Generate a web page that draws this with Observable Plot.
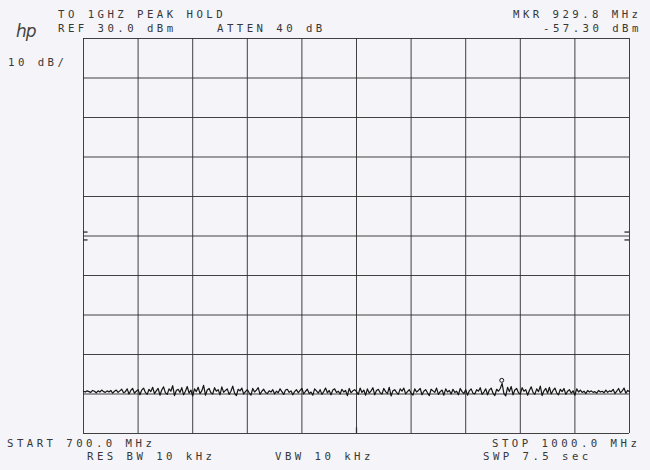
<!DOCTYPE html>
<html><head><meta charset="utf-8">
<script src="https://cdn.jsdelivr.net/npm/d3@7"></script>
<script src="https://cdn.jsdelivr.net/npm/@observablehq/plot@0.6"></script>
<style>
html,body{margin:0;padding:0;background:#f4f4f9;}
#wrap{position:relative;width:650px;height:470px;overflow:hidden;background:#f4f4f9;}
#wrap svg{position:absolute;left:0;top:0;}
.t{position:absolute;font-family:"DejaVu Sans Mono",monospace;font-size:10.7px;line-height:10.7px;letter-spacing:3.45px;color:#383838;white-space:pre;font-variant-numeric:slashed-zero;}
.hp{position:absolute;font-family:"DejaVu Sans",sans-serif;font-style:italic;font-size:17px;line-height:17px;color:#444;letter-spacing:-1px;}
</style></head><body><div id="wrap"></div>
<script>
// Sweep settings (MHz) and display levels (dBm)
const startMHz = 700;
const stopMHz = 1000;
const freqGrid = [700, 730, 760, 790, 820, 850, 880, 910, 940, 970, 1000];
const levelGrid = [30, 20, 10, 0, -10, -20, -30, -40, -50, -60, -70];
const refTicks = [-19, -21];
const centerMarkMHz = [850];
const marker = [{f: 929.8, v: -57.3}];

// Peak-hold noise trace, dBm, 1 MHz steps (700 -> 1000 MHz)
const traceDbm = [
 -59.3,-59.5,-59.2,-59.4,-59.6,-59.1,-59.3,-59.7,-59.2,-59.5,-59.0,-59.4,-59.6,-59.2,-59.5,-59.1,-59.8,-59.3,-59.0,-59.6,
 -59.2,-58.8,-59.7,-59.4,-58.7,-60.0,-59.1,-58.6,-59.8,-59.3,-58.9,-60.2,-59.0,-58.5,-59.6,-60.1,-58.8,-59.4,-58.3,-59.9,
 -59.2,-58.6,-60.3,-59.0,-58.2,-59.7,-60.1,-58.7,-59.3,-57.9,-60.4,-59.1,-58.8,-59.6,-58.4,-60.2,-59.3,-58.1,-59.8,-59.0,
 -60.5,-58.7,-59.4,-58.3,-59.9,-59.2,-57.8,-60.3,-59.0,-58.6,-59.7,-60.0,-58.4,-59.3,-58.9,-60.2,-58.2,-59.6,-59.1,-58.7,
 -60.1,-59.3,-58.0,-59.8,-60.4,-58.8,-59.2,-58.5,-60.0,-59.4,-58.9,-59.7,-60.3,-58.6,-59.5,-59.0,-58.4,-60.1,-59.3,-58.8,
 -59.6,-59.9,-59.2,-59.5,-58.9,-60.0,-59.3,-59.7,-58.7,-59.4,-60.1,-59.0,-58.8,-59.6,-59.2,-60.2,-59.4,-58.9,-59.7,-59.1,
 -58.6,-60.0,-59.3,-58.8,-59.9,-59.5,-60.3,-58.7,-59.2,-59.8,-58.9,-60.1,-59.4,-58.5,-59.7,-59.1,-60.2,-59.0,-58.7,-59.6,
 -59.3,-60.0,-58.8,-59.5,-59.1,-60.4,-58.6,-59.7,-59.2,-58.9,-59.4,-60.1,-58.5,-59.6,-59.0,-60.3,-58.7,-59.8,-59.2,-58.4,
 -60.2,-59.1,-58.8,-59.7,-60.0,-58.6,-59.4,-59.9,-58.3,-60.5,-59.2,-58.9,-59.6,-60.1,-58.7,-59.3,-58.5,-60.0,-59.4,-58.9,
 -59.8,-60.3,-58.7,-59.5,-59.1,-58.6,-60.2,-59.3,-58.9,-59.7,-60.4,-58.8,-59.2,-59.6,-58.5,-60.1,-59.4,-59.0,-60.3,-58.7,
 -59.5,-59.1,-60.0,-58.8,-59.6,-59.3,-60.2,-58.6,-59.4,-59.9,-58.9,-60.3,-59.2,-58.7,-59.8,-60.0,-58.9,-59.3,-58.4,-60.1,
 -59.5,-58.7,-60.2,-59.0,-58.5,-59.8,-60.4,-58.8,-59.3,-58.6,-57.3,-59.9,-60.5,-58.3,-59.4,-58.1,-60.2,-59.0,-58.6,-59.7,
 -60.0,-58.4,-59.3,-58.9,-60.3,-59.1,-58.2,-59.6,-60.1,-58.7,-59.4,-58.0,-60.4,-59.2,-58.6,-59.8,-58.3,-60.0,-59.1,-58.5,
 -59.7,-60.2,-58.8,-59.4,-58.6,-60.1,-59.3,-58.9,-59.8,-59.2,-60.3,-58.7,-59.5,-59.0,-59.6,-59.3,-59.9,-59.1,-59.5,-59.2,
 -59.6,-59.4,-59.8,-59.1,-59.5,-59.3,-59.7,-59.0,-59.6,-59.2,-59.4,-58.8,-59.9,-59.3,-58.6,-59.7,-59.2,-58.5,-59.8,-59.1,
 -59.4
];

// Header / footer annotation texts
const headerLeft = ["TO 1GHZ PEAK HOLD", "REF 30.0 dBm"];
const attenText = "ATTEN 40 dB";
const scaleText = "10 dB/";
const headerRight = ["MKR 929.8 MHz", "-57.30 dBm"];
const footer = {start: "START 700.0 MHz", stop: "STOP 1000.0 MHz", rbw: "RES BW 10 kHz", vbw: "VBW 10 kHz", swp: "SWP 7.5 sec"};

const step = (stopMHz - startMHz) / (traceDbm.length - 1);
const trace = traceDbm.map((v, i) => ({f: startMHz + i * step, v}));

const ink = "#2e2e2e";
const chart = Plot.plot({
  width: 650, height: 470,
  marginLeft: 83, marginRight: 21, marginTop: 38, marginBottom: 37,
  x: {domain: [startMHz, stopMHz], axis: null},
  y: {domain: [-70, 30], axis: null},
  style: {background: "transparent", overflow: "visible"},
  marks: [
    Plot.ruleX(freqGrid, {stroke: ink, strokeWidth: 1, strokeOpacity: 0.9}),
    Plot.ruleY(levelGrid, {stroke: ink, strokeWidth: 1, strokeOpacity: 0.9}),
    Plot.ruleY(refTicks, {x1: startMHz, x2: startMHz + 2.5, stroke: ink, strokeWidth: 1.3}),
    Plot.ruleY(refTicks, {x1: stopMHz - 2.5, x2: stopMHz, stroke: ink, strokeWidth: 1.3}),
    Plot.ruleX(centerMarkMHz, {y1: -70, y2: -68.6, stroke: ink, strokeWidth: 1.3}),
    Plot.line(trace, {x: "f", y: "v", stroke: "#151515", strokeWidth: 1.2}),
    Plot.dot(marker, {x: "f", y: "v", r: 2, stroke: "#151515", fill: "none", strokeWidth: 1, dy: -3})
  ]
});
const wrap = document.getElementById("wrap");
wrap.appendChild(chart);

function addText(txt, left, top, cls = "t") {
  const d = document.createElement("div");
  d.className = cls;
  d.textContent = txt;
  d.style.left = left + "px";
  d.style.top = top + "px";
  wrap.appendChild(d);
}
addText(headerLeft[0], 58, 10);
addText(headerLeft[1], 58, 24);
addText(attenText, 217, 24);
addText(scaleText, 8, 58);
addText(headerRight[0], 513, 10);
addText(headerRight[1], 543, 24);
addText(footer.start, 7, 439);
addText(footer.stop, 492, 439);
addText(footer.rbw, 87, 451.5);
addText(footer.vbw, 275, 451.5);
addText(footer.swp, 483, 451.5);
addText("hp", 16, 23, "hp");
</script>
</body></html>
